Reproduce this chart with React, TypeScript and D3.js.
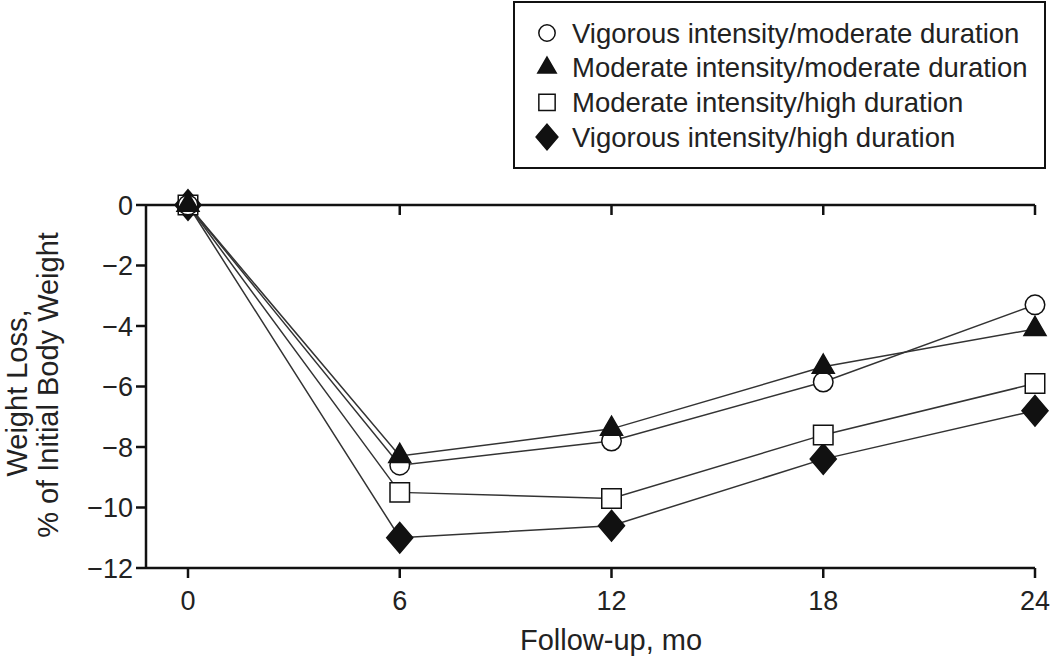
import { useMemo } from "react";
import * as d3 from "d3";

const months = [0, 6, 12, 18, 24];
const yTicks = [0, -2, -4, -6, -8, -10, -12];

const seriesNames = [
    "Vigorous intensity/moderate duration",
    "Moderate intensity/moderate duration",
    "Moderate intensity/high duration",
    "Vigorous intensity/high duration",
];

const vigModValues = [0, -8.6, -7.8, -5.85, -3.3];
const modModValues = [0, -8.3, -7.4, -5.35, -4.1];
const modHighValues = [0, -9.5, -9.7, -7.6, -5.9];
const vigHighValues = [0, -11.0, -10.6, -8.4, -6.8];

const allValues = [vigModValues, modModValues, modHighValues, vigHighValues];

const WIDTH = 1050;
const HEIGHT = 659;
const FONT = "'Liberation Sans', Arial, sans-serif";

// plot frame
const LEFT = 146;
const RIGHT = 1035;
const TOP = 205;
const BOTTOM = 568;
const X0 = 188;

// flatter diamond than d3.symbolDiamond
const diamondShape = {
    draw(context: any, size: number) {
        const h = Math.sqrt(size / 1.7);
        const w = h * 0.85;
        context.moveTo(0, -h);
        context.lineTo(w, 0);
        context.lineTo(0, h);
        context.lineTo(-w, 0);
        context.closePath();
    },
};

const markers = [
    { type: d3.symbolCircle, size: 300, fill: "#fff" },
    { type: d3.symbolTriangle, size: 210, fill: "#111" },
    { type: d3.symbolSquare, size: 380, fill: "#fff" },
    { type: diamondShape, size: 400, fill: "#111" },
];

const App = () => {
    const x = useMemo(() => d3.scaleLinear().domain([0, 24]).range([X0, RIGHT]), []);
    const y = useMemo(() => d3.scaleLinear().domain([0, -12]).range([TOP, BOTTOM]), []);

    const line = d3
        .line<number>()
        .x((_, i) => x(months[i]))
        .y((d) => y(d));

    const symbols = markers.map((m) => d3.symbol(m.type as any, m.size)());
    const legendSymbols = markers.map((m) => d3.symbol(m.type as any, m.size * 0.7)());

    const drawOrder = [3, 2, 0, 1];

    return (
        <svg
            width={WIDTH}
            height={HEIGHT}
            style={{ position: "absolute", left: 0, top: 0, background: "#fff" }}
            fontFamily={FONT}
        >
            {/* frame: left, top, bottom */}
            <line x1={LEFT} x2={LEFT} y1={TOP} y2={BOTTOM} stroke="#111" strokeWidth={2.5} />
            <line x1={LEFT} x2={RIGHT} y1={TOP} y2={TOP} stroke="#111" strokeWidth={2.5} />
            <line x1={LEFT} x2={RIGHT} y1={BOTTOM} y2={BOTTOM} stroke="#111" strokeWidth={2.5} />

            {/* y axis */}
            {yTicks.map((t) => (
                <g key={t}>
                    <line x1={LEFT - 10} x2={LEFT} y1={y(t)} y2={y(t)} stroke="#111" strokeWidth={2.5} />
                    <text x={LEFT - 13} y={y(t)} dy="0.36em" textAnchor="end" fontSize={27} fill="#222">
                        {t === 0 ? "0" : `\u2212${Math.abs(t)}`}
                    </text>
                </g>
            ))}

            {/* x axis */}
            {months.map((m) => (
                <g key={m}>
                    <line x1={x(m)} x2={x(m)} y1={BOTTOM} y2={BOTTOM + 10} stroke="#111" strokeWidth={2.5} />
                    {m > 0 && (
                        <line x1={x(m)} x2={x(m)} y1={TOP} y2={TOP + 10} stroke="#111" strokeWidth={2.5} />
                    )}
                    <text x={x(m)} y={610} textAnchor="middle" fontSize={27} fill="#222">
                        {m}
                    </text>
                </g>
            ))}

            <text x={611} y={650} textAnchor="middle" fontSize={29} fill="#222">
                Follow-up, mo
            </text>

            <g transform="rotate(-90)">
                <text x={-393} y={27} textAnchor="middle" fontSize={29} fill="#222">
                    Weight Loss,
                </text>
                <text x={-385} y={58} textAnchor="middle" fontSize={29} fill="#222">
                    % of Initial Body Weight
                </text>
            </g>

            {/* series lines */}
            {allValues.map((vals, i) => (
                <path key={i} d={line(vals) || undefined} fill="none" stroke="#333" strokeWidth={1.5} />
            ))}

            {/* markers */}
            {drawOrder.map((si) =>
                allValues[si].map((v, j) => (
                    <path
                        key={`${si}-${j}`}
                        d={symbols[si] || undefined}
                        transform={`translate(${x(months[j])}, ${y(v)})`}
                        fill={markers[si].fill}
                        stroke="#111"
                        strokeWidth={1.5}
                    />
                ))
            )}

            {/* legend */}
            <rect x={514} y={2} width={531} height={166} fill="#fff" stroke="#111" strokeWidth={2} />
            {seriesNames.map((name, i) => {
                const cy = 33 + i * 34.7;
                return (
                    <g key={name}>
                        <path
                            d={legendSymbols[i] || undefined}
                            transform={`translate(547, ${cy})`}
                            fill={markers[i].fill}
                            stroke="#111"
                            strokeWidth={1.5}
                        />
                        <text x={572} y={cy + 9.5} fontSize={27.5} fill="#222">
                            {name}
                        </text>
                    </g>
                );
            })}
        </svg>
    );
};

export default App;
